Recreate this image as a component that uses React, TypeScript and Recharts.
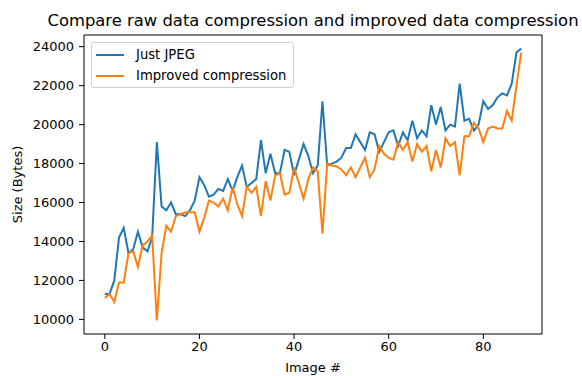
import React from 'react'
import { LineChart, Line, XAxis, YAxis, Label, ReferenceLine } from 'recharts'

// image index 0..88
const jpegSizes = [
  11300, 11300, 12000, 14200, 14700, 13400, 13600, 14500, 13700, 13500, 14200,
  19100, 15800, 15600, 16000, 15400, 15400, 15300, 15600, 16100, 17300, 16900,
  16300, 16400, 16700, 16600, 17200, 16600, 17300, 17900, 16800, 17000, 17200,
  19200, 17500, 18500, 17500, 17500, 18700, 18600, 17400, 18200, 19000, 18400,
  17500, 17900, 21200, 17900, 18000, 18100, 18300, 18800, 18800, 19500, 19100,
  18700, 19600, 19500, 18600, 19100, 19600, 19700, 18900, 19600, 19200, 20200,
  19300, 19700, 19400, 21000, 20000, 20900, 19700, 20000, 19900, 22100, 20200,
  20300, 19700, 20000, 21200, 20800, 21000, 21400, 21600, 21500, 22100, 23700,
  23900,
]

const improvedSizes = [
  11100, 11300, 10900, 11900, 11900, 13400, 13500, 12700, 13800, 14000, 14300,
  9950, 13400, 14800, 14500, 15300, 15400, 15500, 15500, 15500, 14500, 15200,
  16100, 16000, 15800, 16200, 15600, 16800, 15900, 15300, 16800, 16500, 16800,
  15300, 17100, 16100, 17400, 17500, 16400, 16500, 17800, 17000, 16200, 17200,
  17800, 17600, 14400, 18000, 17900, 17850, 17700, 17400, 17800, 17300, 17800,
  18300, 17300, 17700, 18900, 18500, 18300, 18200, 19100, 18700, 19100, 18100,
  19000, 18600, 18900, 17600, 18700, 17800, 19300, 18900, 19100, 17400, 19400,
  19400, 20100, 19800, 19100, 19800, 19900, 19800, 19800, 20700, 20200, 22000,
  23700,
]

const xTicks = [0, 20, 40, 60, 80]
const yTicks = [10000, 12000, 14000, 16000, 18000, 20000, 22000, 24000]
const xDomain: [number, number] = [-4.4, 92.4]
const yDomain: [number, number] = [9250, 24600]
const seriesNames = ['Just JPEG', 'Improved compression']
const seriesColors = ['#1f77b4', '#ff7f0e']

const data = jpegSizes.map((v, i) => ({ i, jpeg: v, improved: improvedSizes[i] }))

const font = '"DejaVu Sans", sans-serif'
const tickStyle = { fontSize: 13, fill: '#000', fontFamily: font }

function LegendBox() {
  return (
    <div
      style={{
        position: 'absolute',
        left: 91,
        top: 42,
        border: '1px solid #d0d0d0',
        borderRadius: 3,
        background: '#fff',
        width: 201,
        height: 44,
        fontFamily: font,
        fontSize: 13.2,
        color: '#000',
      }}
    >
      {seriesNames.map((name, k) => (
        <div key={name} style={{ display: 'flex', alignItems: 'center', height: 21, marginTop: k === 0 ? 1 : 0 }}>
          <div style={{ width: 28, height: 2, background: seriesColors[k], marginLeft: 4, marginRight: 12 }} />
          <span>{name}</span>
        </div>
      ))}
    </div>
  )
}

export default function App() {
  return (
    <div style={{ position: 'absolute', left: 0, top: 0, width: 582, height: 376, background: '#fff', overflow: 'hidden' }}>
      <div
        style={{
          position: 'absolute',
          left: 313,
          top: 11,
          transform: 'translateX(-50%)',
          whiteSpace: 'nowrap',
          fontFamily: font,
          fontSize: 16.4,
          color: '#000',
        }}
      >
        Compare raw data compression and improved data compression
      </div>
      <LineChart width={582} height={376} data={data} margin={{ top: 35, right: 40, bottom: 0, left: 0 }}>
        <XAxis
          dataKey="i"
          type="number"
          domain={xDomain}
          ticks={xTicks}
          allowDataOverflow
          height={42}
          tickSize={5}
          tickMargin={3}
          tick={tickStyle}
          stroke="#000"
        >
          <Label value="Image #" position="insideBottom" offset={4} style={{ fontSize: 13, fill: '#000', fontFamily: font }} />
        </XAxis>
        <YAxis
          type="number"
          domain={yDomain}
          ticks={yTicks}
          allowDataOverflow
          width={84}
          tickSize={5}
          tickMargin={5}
          tick={tickStyle}
          stroke="#000"
        >
          <Label value="Size (Bytes)" angle={-90} position="insideLeft" offset={17} style={{ fontSize: 13, fill: '#000', fontFamily: font, textAnchor: 'middle' }} />
        </YAxis>
        <ReferenceLine y={yDomain[1]} stroke="#000" strokeWidth={1} ifOverflow="extendDomain" />
        <ReferenceLine x={xDomain[1]} stroke="#000" strokeWidth={1} ifOverflow="extendDomain" />
        <Line dataKey="jpeg" stroke={seriesColors[0]} strokeWidth={2} dot={false} isAnimationActive={false} />
        <Line dataKey="improved" stroke={seriesColors[1]} strokeWidth={2} dot={false} isAnimationActive={false} />
      </LineChart>
      <LegendBox />
    </div>
  )
}
